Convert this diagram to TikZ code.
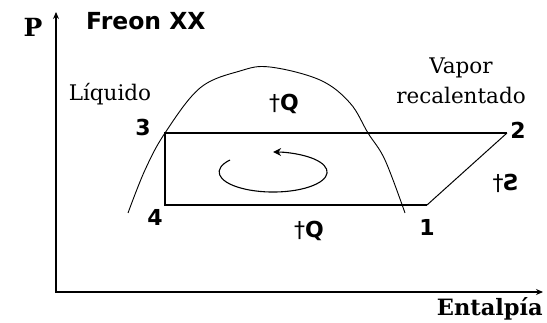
\documentclass[tikz,border=0pt]{standalone}
\usepackage{fontspec}
\setmainfont{DejaVu Serif}
\newfontfamily\labelfont{DejaVu Sans}
\usetikzlibrary{arrows.meta}
\tikzset{
  axis/.style={line width=1.6pt, {Stealth[length=7pt,width=6pt]}-{Stealth[length=7pt,width=6pt]}},
  cycleline/.style={line width=1.6pt},
  state/.style={font=\labelfont\bfseries\fontsize{22}{22}\selectfont, inner sep=0pt},
  heat/.style={font=\labelfont\fontsize{22}{22}\selectfont, inner sep=0pt},
  region/.style={font=\fontsize{21.5}{30}\selectfont, inner sep=0pt, align=center},
}
\begin{document}
\begin{tikzpicture}[x=1pt,y=-1pt]
\useasboundingbox (0,0) rectangle (547,323);
% axes
\coordinate (ptop) at (56,12);
\coordinate (origin) at (56,292);
\coordinate (hend) at (543,292);
\draw[axis] (ptop) -- (origin) -- (hend);
\node[font=\bfseries\fontsize{25}{25}\selectfont, inner sep=0pt] (plabel) at (33,27) {P};
\node[font=\bfseries\fontsize{22.5}{22.5}\selectfont, inner sep=0pt, anchor=north east] (hlabel) at (543,297) {Entalpía};
\node[state, font=\labelfont\bfseries\fontsize{23.5}{23.5}\selectfont, anchor=west] (title) at (86,21) {Freon XX};
% saturation dome
\draw[line width=0.9pt] plot[smooth, tension=0.6] coordinates {(128,213) (145,170) (165,133) (200,88) (240,71) (270,67) (320,80) (350,103) (368,133) (385,160) (405,213)};
\node[region] (liq) at (110,94) {Líquido};
\node[region] (vap) at (461,81) {Vapor\\recalentado};
% cycle
\coordinate (s3) at (165,133);
\coordinate (s2) at (507,133);
\coordinate (s1) at (427,205);
\coordinate (s4) at (165,205);
\draw[cycleline] (s1) -- (s4) -- (s3) -- (s2);
\draw[line width=1pt] (s2) -- (s1);
\node[state] (n3) at (143,127) {3};
\node[state] (n2) at (518,130) {2};
\node[state] (n1) at (427,227) {1};
\node[state] (n4) at (155,217) {4};
\node[heat] (qin) at (284,104) {†\textbf{Q}};
\node[heat] (qout) at (309,231) {†\textbf{Q}};
\node[heat] (work) at (506,183) {†\textbf{Ƨ}};
\draw[line width=1.1pt, -{Stealth[length=8pt,width=8pt]}] (230,160) arc[start angle=217, end angle=-90, x radius=54, y radius=20];
\end{tikzpicture}
\end{document}
